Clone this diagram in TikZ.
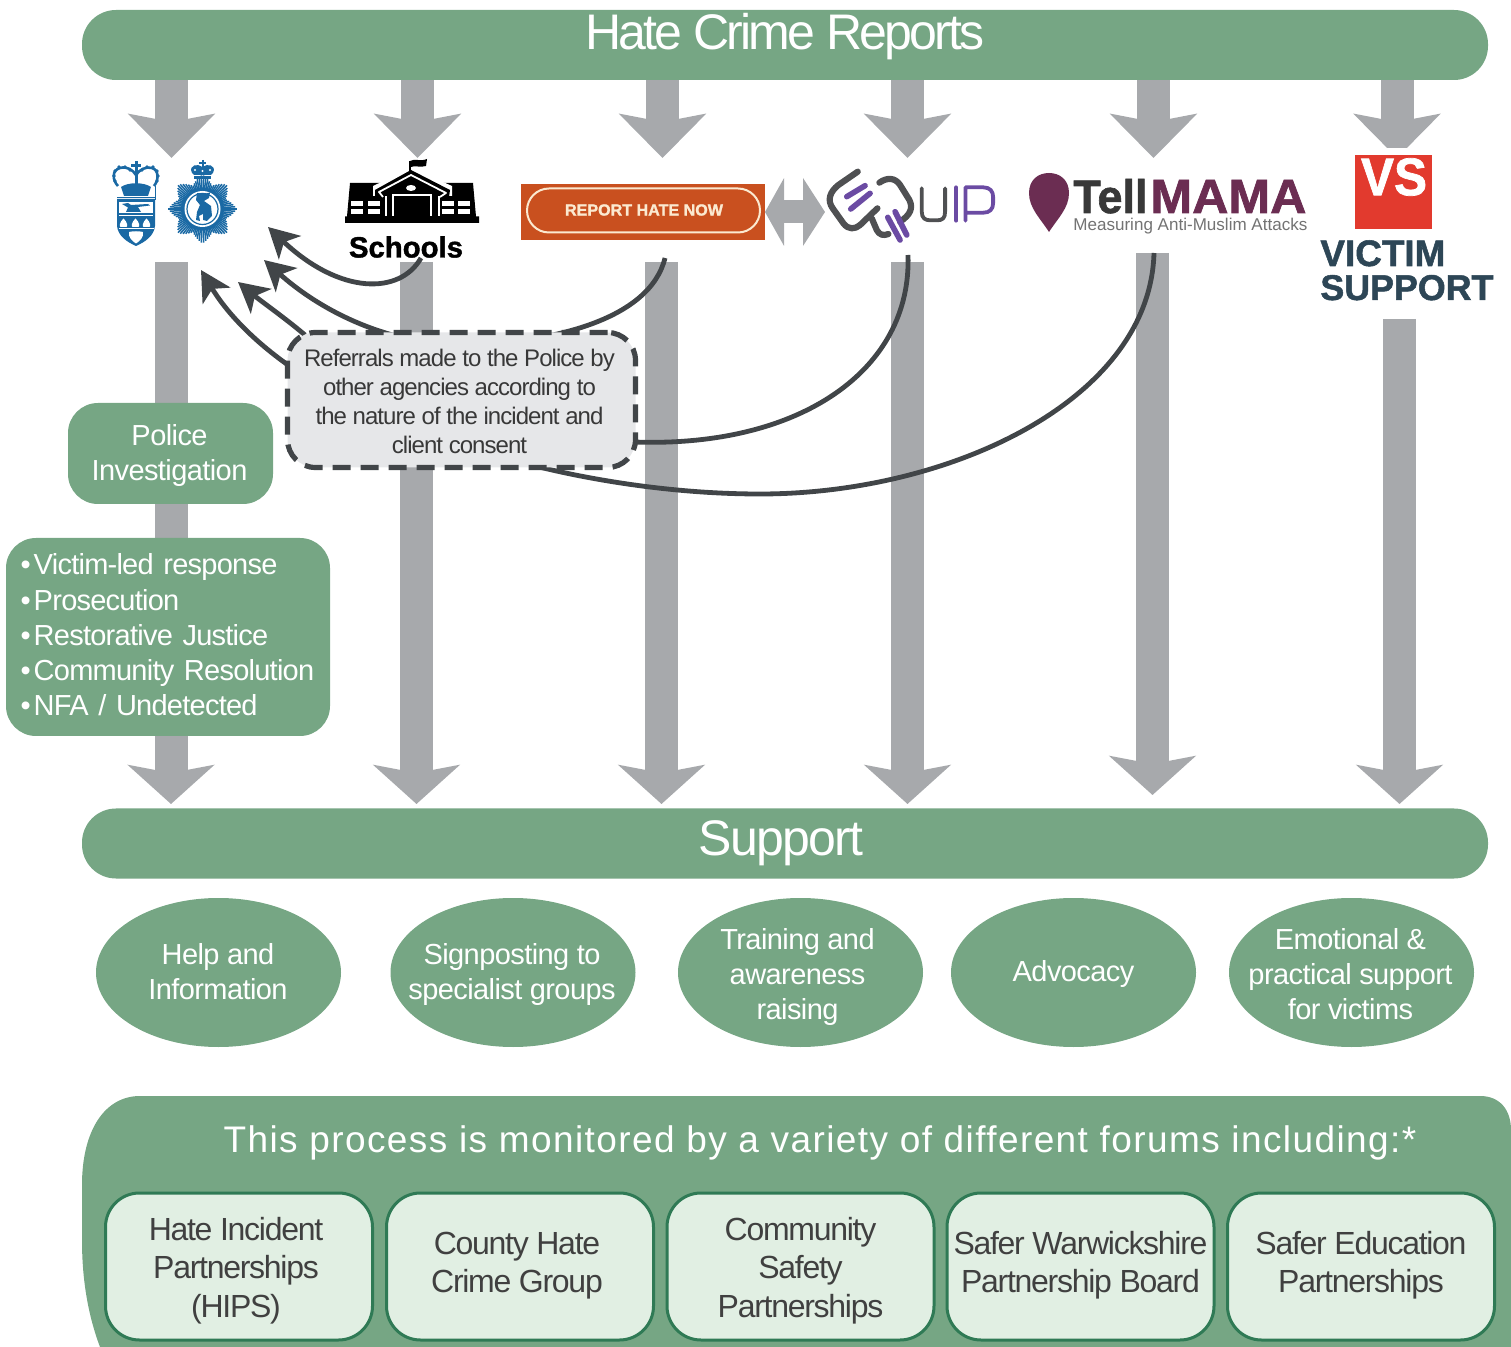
\documentclass[tikz,border=0pt]{standalone}
\usepackage{fontspec}
\usepackage{graphicx}
\setmainfont{Liberation Sans}[BoldFeatures={FakeBold=1.4}]
\newfontfamily\titlef[LetterSpace=-5.6]{Liberation Sans}
\newfontfamily\suppf[LetterSpace=-3.5]{Liberation Sans}
\newfontfamily\tightf[LetterSpace=-4]{Liberation Sans}
\newfontfamily\midf[LetterSpace=-2]{Liberation Sans}
\newfontfamily\listf[LetterSpace=-2.6,WordSpace=0.6]{Liberation Sans}
\newfontfamily\widef[LetterSpace=3.8]{Liberation Sans}
\usetikzlibrary{arrows.meta,shapes.geometric}
\definecolor{hgreen}{HTML}{76A684}
\definecolor{hgrey}{HTML}{A7A9AC}
\definecolor{hdark}{HTML}{414548}
\definecolor{hpale}{HTML}{E1EFE3}
\definecolor{hedge}{HTML}{2F7A55}
\definecolor{hbox}{HTML}{E6E7E9}
\definecolor{hblue}{HTML}{1A69A4}
\definecolor{horange}{HTML}{C9501F}
\definecolor{hcream}{HTML}{FBE9D0}
\definecolor{hpurple}{HTML}{6B4BA3}
\definecolor{hgraphite}{HTML}{4F5052}
\definecolor{hmama}{HTML}{6B2D52}
\definecolor{hred}{HTML}{E23A2E}
\definecolor{hnavy}{HTML}{2D4656}
\tikzset{
  blockin/.style={draw=hgrey,line width=16.5pt,-{Stealth[width=43pt,length=22pt,inset=4pt,fill=hgrey]}},
  blockout/.style={draw=hgrey,line width=16.5pt,-{Stealth[width=43pt,length=19.5pt,inset=4pt,fill=hgrey]}},
  twoway/.style={draw=hgrey,line width=11.5pt,{Triangle[width=33.5pt,length=9.5pt,fill=hgrey]}-{Triangle[width=33.5pt,length=11pt,fill=hgrey]}},
  refer/.style={draw=hdark,line width=2.4pt,-{Stealth[length=15pt,width=16pt,inset=4pt,fill=hdark]}},
  referline/.style={draw=hdark,line width=2.4pt},
  bar/.style={fill=hgreen,rounded corners=17pt,minimum width=703pt,minimum height=35pt,inner sep=0pt},
  barlabel/.style={text=white,inner sep=0pt},
  greenbox/.style={fill=hgreen,rounded corners=15pt,inner sep=0pt},
  oval/.style={ellipse,fill=hgreen,minimum width=122.5pt,minimum height=74.5pt,inner sep=0pt},
  ovaltext/.style={text=white,inner sep=0pt,align=center,font=\midf\fontsize{14.5}{17.5}\selectfont},
  forum/.style={fill=hpale,draw=hedge,line width=1.5pt,rounded corners=17pt,minimum width=133.5pt,minimum height=73.5pt,inner sep=0pt},
  forumtext/.style={inner sep=0pt,align=center,text=black!75,font=\tightf\fontsize{16}{19.2}\selectfont},
}
\begin{document}
\begin{tikzpicture}[x=0.5pt,y=-0.5pt]
\useasboundingbox (0,0) rectangle (1511,1347);

% anchors of the block arrows
\coordinate (t1) at (171.5,75); \coordinate (h1) at (171.5,158);
\coordinate (t2) at (417.5,75); \coordinate (h2) at (417.5,158);
\coordinate (t3) at (662.5,75); \coordinate (h3) at (662.5,158);
\coordinate (t4) at (907.5,75); \coordinate (h4) at (907.5,158);
\coordinate (t5) at (1153.5,75); \coordinate (h5) at (1153.5,158);
\coordinate (t6) at (1397,75); \coordinate (h6) at (1397,158);
\coordinate (l1) at (171,262); \coordinate (e1) at (171,804);
\coordinate (l2) at (416.5,262); \coordinate (e2) at (416.5,804);
\coordinate (l3) at (661.5,262); \coordinate (e3) at (661.5,804);
\coordinate (l4) at (907.5,262); \coordinate (e4) at (907.5,804);
\coordinate (l5) at (1152.5,253); \coordinate (e5) at (1152.5,795);
\coordinate (l6) at (1399.5,319); \coordinate (e6) at (1399.5,804);
\foreach \n in {1,...,6}{
  \draw[blockin] (t\n) -- (h\n);
  \draw[blockout] (l\n) -- (e\n);
}

% title bars
\node[bar] (reports) at (785,45) {};
\node[barlabel,font=\titlef\fontsize{25}{30}\selectfont] (reportstext) at (785,37) {Hate Crime Reports};
\node[bar] (support) at (785,843.5) {};
\node[barlabel,font=\suppf\fontsize{25}{30}\selectfont] (supporttext) at (781,843) {Support};

% coordinates of the referral curves
\coordinate (sA) at (421,258); \coordinate (tA) at (268,227);
\coordinate (sB) at (665,258); \coordinate (tB) at (264,260);
\coordinate (sC) at (305,335); \coordinate (tC) at (238,282);
\coordinate (sD) at (288,365); \coordinate (tD) at (201,270);
\coordinate (sE) at (908,255); \coordinate (eE) at (634,442);
\coordinate (sF) at (1154,253); \coordinate (eF) at (535,466);
\coordinate (mF) at (760,494);

\draw[refer] (sA) .. controls (400,295) and (340,295) .. (tA);
\draw[refer] (sB) .. controls (650,320) and (550,345) .. (450,345) .. controls (380,340) and (320,310) .. (tB);
\draw[refer] (sC) .. controls (285,318) and (262,302) .. (tC);
\draw[refer] (sD) .. controls (250,338) and (225,310) .. (tD);
\draw[referline] (sE) .. controls (912,370) and (800,448) .. (eE);
\draw[referline] (sF) .. controls (1150,400) and (950,494) .. (mF) .. controls (680,494) and (600,482) .. (eF);

% referral box
\node[fill=hbox,draw=hdark,line width=2.6pt,dash pattern=on 9pt off 5pt,rounded corners=14pt,minimum width=174pt,minimum height=67.5pt,inner sep=0pt] (referral) at (461.5,400) {};
\node[inner sep=0pt,align=center,text=black!78,font=\tightf\fontsize{12}{14.5}\selectfont] (referraltext) at (459.5,401)
 {Referrals made to the Police by\\other agencies according to\\the nature of the incident and\\client consent};

% two-way arrow
\coordinate (twL) at (765,212); \coordinate (twR) at (825,212);
\draw[twoway] (twL) -- (twR);

% police box and outcomes
\node[greenbox,minimum width=102.5pt,minimum height=50.5pt] (police) at (170.5,453.5) {};
\node[inner sep=0pt,text=white,align=center,font=\midf\fontsize{14.5}{17.6}\selectfont] (policetext) at (169.5,455.5) {Police\\Investigation};
\node[greenbox,minimum width=162pt,minimum height=99pt] (outcomes) at (168,637) {};
\node[inner sep=0pt,text=white,align=left,text width=150pt,font=\listf\fontsize{14.5}{17.6}\selectfont] (outcomelist) at (168,635)
{\hspace*{1.3pt}\textbullet\hspace{1.5pt}Victim-led response\\
\hspace*{1.3pt}\textbullet\hspace{1.5pt}Prosecution\\
\hspace*{1.3pt}\textbullet\hspace{1.5pt}Restorative Justice\\
\hspace*{1.3pt}\textbullet\hspace{1.5pt}Community Resolution\\
\hspace*{1.3pt}\textbullet\hspace{1.5pt}NFA / Undetected};

% support ovals
\node[oval] (help) at (218.5,972.5) {};
\node[ovaltext] (helptext) at (218,971.5) {Help and\\Information};
\node[oval] (sign) at (513,972.5) {};
\node[ovaltext] (signtext) at (512,974.5) {Signposting to\\specialist groups};
\node[oval] (train) at (800.5,972.5) {};
\node[ovaltext] (traintext) at (797.5,977.5) {Training and\\awareness\\raising};
\node[oval] (advocacy) at (1073.5,972.5) {};
\node[ovaltext] (advocacytext) at (1073.5,974.5) {Advocacy};
\node[oval] (emotion) at (1351.5,972.5) {};
\node[ovaltext] (emotiontext) at (1350.5,974.5) {Emotional \&\\practical support\\for victims};

% monitoring panel
\fill[hgreen] (100,1347) .. controls (88,1315) and (82,1280) .. (82,1240) -- (82,1185) .. controls (82,1130) and (105,1096) .. (140,1096) -- (1480,1096) .. controls (1500,1096) and (1511,1110) .. (1511,1130) -- (1511,1347) -- cycle;
\node[text=white,inner sep=0pt,font=\widef\fontsize{18.5}{22}\selectfont] (monitor) at (820,1143) {This process is monitored by a variety of different forums including:*};
\node[forum] (hips) at (239,1266.5) {};
\node[forumtext] (hipstext) at (236,1270.5) {Hate Incident\\Partnerships\\(HIPS)};
\node[forum] (county) at (520,1266.5) {};
\node[forumtext] (countytext) at (517,1265.5) {County Hate\\Crime Group};
\node[forum] (csp) at (800.5,1266.5) {};
\node[forumtext] (csptext) at (800.5,1270.5) {Community\\Safety\\Partnerships};
\node[forum] (safer) at (1080.5,1266.5) {};
\node[forumtext] (safertext) at (1080.5,1265.5) {Safer Warwickshire\\Partnership Board};
\node[forum] (educ) at (1361,1266.5) {};
\node[forumtext] (eductext) at (1361,1265.5) {Safer Education\\Partnerships};

% ---- police logos
\begin{scope}
  % crown
  \draw[hblue,line width=1.3pt,line join=round] (118,186) .. controls (112,180) and (112,170) .. (120,168) .. controls (127,166) and (133,170) .. (136,175) .. controls (139,170) and (146,166) .. (152,168) .. controls (159,170) and (159,180) .. (154,186);
  \foreach \px/\py in {114/176,115/171,119/167,125/167,130/170,142/170,147/167,153/167,157/171,158/176,115/181,157/181}{
    \fill[hblue] (\px,\py) circle (1.9);
  }
  \draw[hblue,line width=1.5pt] (136,161) -- (136,184);
  \draw[hblue,line width=1.5pt] (131,165.5) -- (141,165.5);
  \fill[hblue] (121,187) .. controls (128,182) and (144,182) .. (151,187) -- (148,196) -- (124,196) -- cycle;
  \draw[hblue,line width=.5pt] (117,198) -- (155,198);
  \draw[hblue,line width=.5pt] (155,186) -- (155,200);
  % shield
  \fill[hblue] (117,199) -- (155,199) -- (155,226) .. controls (154,236) and (145,242) .. (136,246) .. controls (127,242) and (118,236) .. (117,226) -- cycle;
  \fill[white] (119,202) rectangle (153,213.5);
  \fill[white] (119,215) rectangle (153,216.5);
  \fill[hblue] (122,204) -- (128,203) -- (131,205) -- (148,204) -- (150,205.5) -- (138,207) -- (141,212) -- (126,212) -- (128,207.5) -- cycle;
  \foreach \bx in {123.5,135.5,146.5}{
    \fill[white] (\bx,218.5) .. controls (\bx+4,222) and (\bx+4.5,227) .. (\bx+3,227) -- (\bx-3,227) .. controls (\bx-4.5,227) and (\bx-4,222) .. (\bx,218.5) -- cycle;
  }
  \fill[white] (118.5,228) rectangle (153.5,229.3);
  \fill[white] (129,232) .. controls (133,231) and (139,231) .. (143,232) .. controls (144,237) and (140,241) .. (136,243.5) .. controls (132,241) and (128,237) .. (129,232) -- cycle;
  % badge
  \foreach \a in {0,4,...,356}{
    \pgfmathsetmacro{\dd}{abs(mod(\a,45)-22.5)/22.5}
    \pgfmathsetmacro{\rr}{25+9.5*\dd}
    \draw[hblue,line width=.75pt] (202.5,209) -- ++({\rr*cos(\a)},{\rr*sin(\a)});
  }
  \fill[hblue] (202.5,209) circle (21.5);
  \fill[white] (202.5,209) circle (18);
  \draw[hblue,line width=.6pt] (202.5,209) circle (15.5);
  \fill[hblue] (197,193) -- (204,194) -- (210,192.5) -- (209,198) -- (204,201) -- (211,206) -- (212,216) -- (207,221) -- (203,220) -- (203,214) -- (199,216) -- (200,221) -- (196,220) -- (197,212) -- (200,205) -- (196,200) -- cycle;
  % badge crown
  \fill[hblue] (192,173) .. controls (188,165) and (198,163) .. (202.5,167) .. controls (207,163) and (217,165) .. (213,173) -- (211,175) -- (194,175) -- cycle;
  \fill[white] (195,170) circle (1.2);\fill[white] (202.5,171) circle (1.2);\fill[white] (210,170) circle (1.2);
  \draw[hblue,line width=1pt] (202.5,160) -- (202.5,168);
  \draw[hblue,line width=1pt] (199,163) -- (206,163);
  \fill[hblue] (194,176.5) rectangle (211,179);
\end{scope}

% ---- schools logo
\fill[black] (345,223) -- (479,223) -- (479,216.5) -- (476,216.5) -- (473,183) -- (350,183) -- (347,216.5) -- (345,216.5) -- cycle;
\fill[white] (373,186) -- (411,168) -- (452,186) -- (452,196) -- (373,196) -- cycle;
\fill[black] (375,190) -- (411,170) -- (450,190) -- (449,197) -- (440,197) -- (440,223) -- (383,223) -- (383,197) -- (375,197) -- cycle;
\draw[black,line width=1pt] (410,172) -- (410,161);
\fill[black] (410,161) .. controls (415,158) and (420,162) .. (427,159) -- (426,166) .. controls (420,168) and (415,165) .. (411,167) -- cycle;
\draw[white,line width=.9pt,line join=round] (383,197) -- (379,192) -- (411,175) -- (446,193) -- (440,197);
\fill[white] (411,188) ellipse (5 and 3);
\foreach \wx in {351,368,442,458}{
  \fill[white] (\wx,201) rectangle (\wx+12,206.5);
  \fill[white] (\wx,209) rectangle (\wx+12,214);
}
\draw[white,line width=1.2pt] (393,216) -- (393,195) -- (431,195) -- (431,216);
\draw[white,line width=1.2pt] (386,216) -- (386,196);
\draw[white,line width=1.2pt] (439,216) -- (439,196);
\node[inner sep=0pt,font=\bfseries] (schools) at (406,247) {\resizebox{57pt}{!}{Schools}};

% ---- report hate now logo
\fill[horange] (521,184) rectangle (765,240);
\draw[hcream,line width=1pt,rounded corners=11pt] (527,188.5) rectangle (760,232.5);
\node[inner sep=0pt,text=hcream,font=\bfseries] (reportnow) at (644,210) {\resizebox{79pt}{!}{REPORT HATE NOW}};

% ---- equip logo
\begin{scope}[xshift=255pt,yshift=-70pt,x=0.1667pt,y=-0.1667pt]
  \draw[hgraphite,line width=3.1pt,line cap=round,line join=round] (1043,95) -- (985,135) .. controls (960,155) and (950,180) .. (968,205) -- (1000,250) .. controls (1015,270) and (1035,268) .. (1050,255) -- (1102,205);
  \draw[hgraphite,line width=3.1pt,line cap=round,line join=round] (1108,128) .. controls (1130,112) and (1155,112) .. (1170,135) -- (1198,180) .. controls (1210,205) and (1200,225) .. (1170,245);
  \draw[hgraphite,line width=3.1pt,line cap=round,line join=round] (1085,235) -- (1100,270) .. controls (1108,285) and (1120,288) .. (1135,282);
  \draw[hpurple,line width=2.8pt,line cap=round] (1010,170) -- (1065,137);
  \draw[hpurple,line width=2.8pt,line cap=round] (1022,207) -- (1080,160);
  \draw[hpurple,line width=2.8pt,line cap=round] (1133,232) -- (1170,300);
  \draw[hpurple,line width=2.8pt,line cap=round] (1155,215) -- (1190,285);
  \draw[hgraphite,line width=1.9pt,line cap=round,line join=round] (1235,145) -- (1235,215) .. controls (1235,235) and (1245,241) .. (1262,241) -- (1280,241) .. controls (1297,241) and (1305,235) .. (1305,215) -- (1305,145);
  \draw[hpurple,line width=1.9pt,line cap=round] (1338,142) -- (1338,242);
  \draw[hpurple,line width=1.9pt,line cap=round,line join=round] (1366,242) -- (1366,142) -- (1420,142) .. controls (1440,142) and (1449,155) .. (1449,170) -- (1449,190) .. controls (1449,208) and (1438,218) .. (1420,218) -- (1368,218);
\end{scope}

% ---- tell mama logo
\fill[white] (1018,163) rectangle (1309,241);
\fill[hmama] (1049,232) .. controls (1040,218) and (1029,208) .. (1029,193) .. controls (1029,180) and (1038,173) .. (1049,173) .. controls (1060,173) and (1069,180) .. (1069,193) .. controls (1069,208) and (1058,218) .. (1049,232) -- cycle;
\node[anchor=base west,inner sep=0pt,text=black!78,font=\bfseries] (tell) at (1073,213) {\resizebox{37pt}{17pt}{Tell}};
\node[anchor=base west,inner sep=0pt,text=hmama,font=\bfseries] (mama) at (1150,213) {\resizebox{78pt}{16.5pt}{MAMA}};
\node[anchor=base west,inner sep=0pt,text=black!55] (mamasub) at (1073,231) {\resizebox{117pt}{!}{Measuring Anti-Muslim Attacks}};

% ---- victim support logo
\fill[white] (1345,148) rectangle (1441,235);
\fill[hred] (1355,155) rectangle (1432,229);
\node[inner sep=0pt,text=white,font=\bfseries] (vs) at (1394,177) {\resizebox{33pt}{18.5pt}{VS}};
\fill[white] (1312,235) rectangle (1494,315);
\node[anchor=base west,inner sep=0pt,text=hnavy,font=\bfseries] (victim) at (1320,266) {\resizebox{62.5pt}{!}{VICTIM}};
\node[anchor=base west,inner sep=0pt,text=hnavy,font=\bfseries] (vsupport) at (1320,300) {\resizebox{86.5pt}{!}{SUPPORT}};
\end{tikzpicture}
\end{document}
